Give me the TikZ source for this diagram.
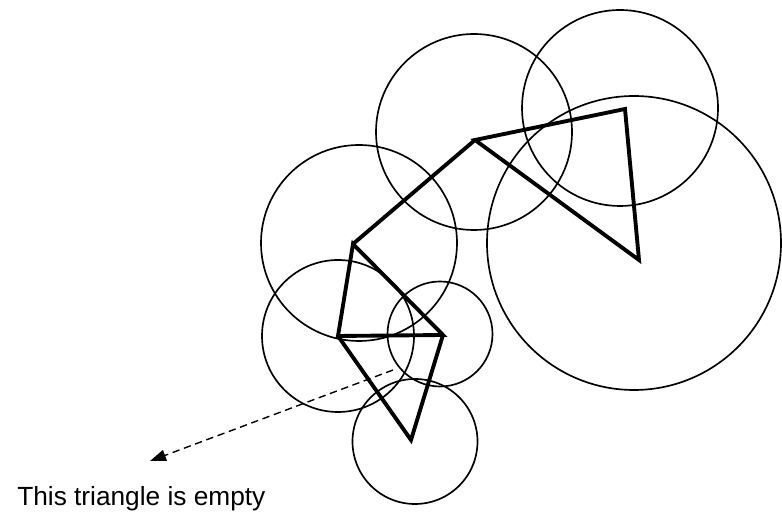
\documentclass[tikz,border=0pt]{standalone}
\usepackage{fontspec}
\setmainfont{Liberation Sans}
\usetikzlibrary{arrows.meta}
\begin{document}
\begin{tikzpicture}[x=0.75pt, y=0.75pt, ring/.style={line width=1.25pt}, edge/.style={line width=2.9pt, line join=miter}, every node/.style={font=\fontsize{19.7pt}{24pt}\selectfont}]
\useasboundingbox (0,0) rectangle (782,513);
% triangle corners
\coordinate (a) at (353,269);
\coordinate (b) at (338,177);
\coordinate (c) at (443,178);
\coordinate (d) at (411,73);
\coordinate (e) at (475,373);
\coordinate (f) at (625,404);
\coordinate (g) at (639,253);
% circles
\draw[ring] (634,270) circle[radius=147];
\draw[ring] (620,405) circle[radius=98];
\draw[ring] (474,381) circle[radius=98];
\draw[ring] (359,270) circle[radius=98];
\draw[ring] (338,177) circle[radius=76];
\draw[ring] (440,179) circle[radius=52.5];
\draw[ring] (415,71.5) circle[radius=62.5];
% edges
\draw[edge] (a) -- (e);
\draw[edge] (e) -- (f) -- (g) -- cycle;
\draw[edge] (a) -- (b) -- (c) -- cycle;
\draw[edge] (b) -- (d) -- (c);
% note
\coordinate (from) at (393,143);
\coordinate (to) at (150,52);
\node[anchor=base west, inner sep=0pt] (note) at (17,7) {This triangle is empty};
\draw[line width=1.05pt, dash pattern=on 5.5pt off 3.5pt, -{Triangle[length=12pt, width=8.5pt]}] (from) -- (to);
\end{tikzpicture}
\end{document}
